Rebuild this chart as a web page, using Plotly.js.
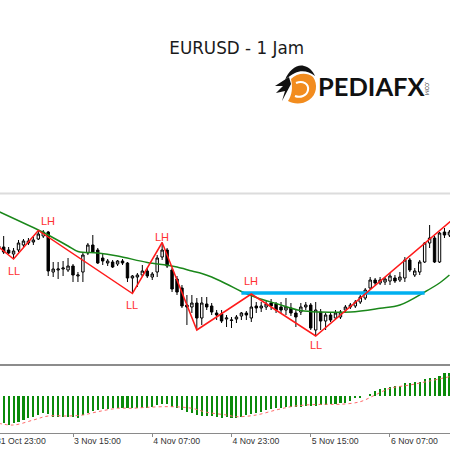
<!DOCTYPE html>
<html><head><meta charset="utf-8">
<script src="https://cdn.plot.ly/plotly-3.0.1.min.js"></script>
<style>html,body{margin:0;padding:0;background:#fff;}#chart{width:450px;height:450px;}</style>
</head><body><div id="chart"></div>
<script>
// ---- data (hourly bars, bar index) ----
const tickBars = [0,16,32,48,64,80];
const tickLabels = ['31 Oct 23:00','3 Nov 15:00','4 Nov 07:00','4 Nov 23:00','5 Nov 15:00','6 Nov 07:00'];
const barIndex = [1,2,3,4,5,6,7,8,9,10,11,12,13,14,15,16,17,18,19,20,21,22,23,24,25,26,27,28,29,30,
31,32,33,34,35,36,37,38,39,40,41,42,43,44,45,46,47,48,49,50,51,52,53,54,55,56,57,58,59,60,
61,62,63,64,65,66,67,68,69,70,71,72,73,74,75,76,77,78,79,80,81,82,83,84,85,86,87,88,89,90,91,92];
const open = [1.1566,1.1565,1.1562,1.1558,1.1562,1.1567,1.1569,1.1570,1.1573,1.1576,
1.1580,1.1540,1.1542,1.1543,1.1542,1.1546,1.1536,1.1540,1.1559,1.1567,
1.1562,1.1554,1.1549,1.1550,1.1548,1.1551,1.1549,1.1534,1.1535,1.1537,
1.1541,1.1535,1.1540,1.1555,1.1562,1.1542,1.1533,1.1524,1.1507,1.1505,
1.1509,1.1494,1.1508,1.1506,1.1499,1.1498,1.1493,1.14915,1.1493,1.1496,
1.1499,1.1494,1.1506,1.1504,1.1505,1.1509,1.1508,1.1505,1.1502,1.1504,
1.1499,1.1500,1.1505,1.1507,1.1482,1.1500,1.1491,1.1497,1.1494,1.1495,
1.1502,1.1505,1.1506,1.1510,1.1514,1.1524,1.1532,1.1529,1.1530,1.1531,
1.1534,1.1532,1.1534,1.1552,1.1537,1.1540,1.1550,1.1569,1.1574,1.1550,
1.1580,1.1577];
const high = [1.1572,1.1576,1.1565,1.1564,1.1572,1.1573,1.1574,1.1575,1.15815,1.1582,
1.1581,1.1550,1.1550,1.1551,1.1554,1.1548,1.1540,1.1559,1.1569,1.1577,
1.1564,1.1559,1.1553,1.1552,1.1552,1.1553,1.1550,1.1537,1.1539,1.1547,
1.1544,1.1540,1.1557,1.15695,1.1564,1.1544,1.1536,1.1527,1.1517,1.1517,
1.1514,1.1515,1.1515,1.1509,1.1502,1.1502,1.1497,1.1495,1.1497,1.1500,
1.1501,1.1518,1.1510,1.1510,1.1512,1.1513,1.1510,1.1510,1.1514,1.1509,
1.1502,1.1509,1.1510,1.1509,1.1510,1.1503,1.1499,1.1499,1.1502,1.1502,
1.1507,1.1509,1.1512,1.1517,1.1524,1.1535,1.1534,1.1535,1.1535,1.1539,
1.1537,1.1540,1.1555,1.1554,1.1544,1.1552,1.1570,1.1587,1.1576,1.1580,
1.1584,1.1582];
const low = [1.1562,1.1558,1.1558,1.1553,1.1560,1.1565,1.1567,1.1567,1.1572,1.1574,
1.1536,1.1535,1.1533,1.1536,1.1540,1.1530,1.1530,1.1530,1.1557,1.1559,
1.1548,1.1547,1.1546,1.1544,1.1546,1.1547,1.1530,1.15185,1.1525,1.1535,
1.1534,1.1532,1.1535,1.1552,1.1544,1.1520,1.1517,1.1504,1.1487,1.1499,
1.1482,1.1487,1.1502,1.1497,1.1492,1.1489,1.1485,1.1484,1.1489,1.1492,
1.1492,1.1490,1.1499,1.1500,1.1502,1.1502,1.1499,1.1499,1.1497,1.1496,
1.1485,1.1497,1.1502,1.1482,1.1476,1.1482,1.1482,1.1490,1.1492,1.1493,
1.1500,1.1503,1.1504,1.1508,1.1512,1.1522,1.1527,1.1527,1.1527,1.1527,
1.1529,1.1530,1.1530,1.1540,1.1535,1.1537,1.1549,1.1564,1.1549,1.1549,
1.1574,1.1575];
const close = [1.1564,1.1560,1.1559,1.1561,1.1569,1.1571,1.1571,1.1572,1.1578,1.1580,
1.1541,1.1543,1.1543,1.1544,1.1546,1.1537,1.1537,1.1557,1.1567,1.1560,
1.1549,1.1551,1.1551,1.1545,1.1551,1.1549,1.1534,1.1536,1.1537,1.1541,
1.1536,1.1538,1.1554,1.1562,1.1546,1.1523,1.1520,1.1506,1.1505,1.1509,
1.1494,1.1509,1.1505,1.1500,1.1497,1.1491,1.1494,1.1492,1.1495,1.1499,
1.1497,1.1505,1.1504,1.1506,1.1508,1.1506,1.1502,1.1502,1.1505,1.1499,
1.1495,1.1505,1.1507,1.1484,1.1502,1.1491,1.1497,1.1492,1.1499,1.1500,
1.1505,1.1507,1.1510,1.1515,1.1522,1.1532,1.1529,1.1532,1.1533,1.1536,
1.1531,1.1535,1.1552,1.1542,1.1541,1.1550,1.1569,1.1574,1.1550,1.1579,
1.1577,1.1580];
// moving average (green)
const maBar = [1,9,11,15,17,21,25,31,35,37,40,42,44,47,50,53,57,62,66,72,78,82,87,90,92];
const maValue = [1.16005,1.1582,1.1577,1.1566,1.15605,1.1559,1.1556,1.15495,1.15468,1.1545,1.1541,1.15385,1.1535,1.1528,1.15205,1.15145,1.15085,1.15015,1.1500,1.1500,1.15037,1.1507,1.1520,1.1529,1.1537];
// zigzag swings (red)
const zzBar = [0,4,9,28,34,41,52,65,93];
const zzValue = [1.1569,1.1553,1.15815,1.15185,1.15695,1.1482,1.1518,1.1476,1.1594];
const zzTag = ['','LL','LH','LL','LH','','LH','LL',''];
// horizontal level (cyan)
const levelBars = [50,87];
const levelValue = [1.1519,1.1519];
// lower panel: histogram and dotted signal
const histValue = [-27,-27.3,-29,-27.3,-25.7,-24,-22.3,-20.7,-19,-17.3,
-18.3,-20.7,-20.7,-20.7,-21.3,-21.3,-21.7,-19,-17.3,-15,
-14,-13.3,-13,-12.3,-12.3,-11.7,-11.7,-12.3,-12.3,-12.3,
-11.7,-10.7,-9,-8,-8.3,-10.7,-12.3,-14,-15.7,-17.3,
-19,-20,-20,-20,-20.7,-21.7,-20.7,-21.7,-21.7,-20.7,
-19,-18.3,-17.3,-15.7,-14,-13.3,-12.3,-11.7,-10.7,-10.7,
-10.7,-10.7,-9.7,-9.7,-9.7,-9,-9,-8.3,-8.3,-7.3,
-6.7,-5,-2.3,-1.7,0.3,1.7,5,7,8.3,9.3,
10.3,10.3,12.7,12.7,13.7,14.3,17,18.3,18.3,20.3,
22.7,23.5];
const sigBar = [1,4,8,11,15,18,21,25,28,31,36,40,43,47,49,53,57,60,63,67,70,74,77,80,84,88,92];
const sigValue = [-27.3,-29,-24,-20,-20,-19,-15.7,-12.3,-12.3,-11.3,-10.7,-12.3,-16.3,-19,-20.7,-19,-14,-10.7,-9,-8.3,-8.3,-5.7,1,7.7,11,15,19.3];

// ---- helpers (pixel -> paper for decorations) ----
const W = 450, H = 450;
function toPaper(d){
  return d.replace(/(-?\d+\.?\d*),(-?\d+\.?\d*)/g,(m,x,y)=>(x/W).toFixed(5)+','+(1-y/H).toFixed(5));
}

const traces = [
  {type:'candlestick', x:barIndex, open:open, high:high, low:low, close:close,
   xaxis:'x', yaxis:'y', whiskerwidth:0, hoverinfo:'skip',
   increasing:{line:{color:'#000',width:1}, fillcolor:'#ffffff'},
   decreasing:{line:{color:'#000',width:1}, fillcolor:'#000000'}},
  {type:'scatter', mode:'lines', x:maBar, y:maValue, xaxis:'x', yaxis:'y',
   line:{color:'#1a871a', width:1.5, shape:'spline'}, hoverinfo:'skip'},
  {type:'scatter', mode:'lines', x:levelBars, y:levelValue, xaxis:'x', yaxis:'y',
   line:{color:'#00b0f0', width:3.5}, hoverinfo:'skip'},
  {type:'scatter', mode:'lines', x:zzBar, y:zzValue, xaxis:'x', yaxis:'y',
   line:{color:'#ff1a1a', width:1.5}, hoverinfo:'skip'},
  {type:'bar', x:barIndex, y:histValue, xaxis:'x', yaxis:'y2', width:0.42,
   marker:{color:'#0a8a0a', line:{width:0}}, hoverinfo:'skip'},
  {type:'scatter', mode:'lines', x:sigBar, y:sigValue, xaxis:'x', yaxis:'y2',
   line:{color:'#ff6a6a', width:1, dash:'dot', shape:'spline'}, hoverinfo:'skip'}
];

const labelShift = {1:[0,-12], 2:[9.5,9.5], 3:[0,-11], 4:[0,6], 6:[0,13], 7:[0,-9.3]};
const annotations = [];
zzTag.forEach((t,i)=>{
  if(!t) return;
  const s = labelShift[i];
  annotations.push({x:zzBar[i], y:zzValue[i], xref:'x', yref:'y', text:t, showarrow:false,
    xshift:s[0], yshift:s[1], font:{family:'Liberation Sans', size:11, color:'#ff3030'}});
});
// first (partially cut) tick label, as in the reference
annotations.push({x:-6.25/W, y:1-441/H, xref:'paper', yref:'paper', xanchor:'left', yanchor:'middle',
  text:tickLabels[0], showarrow:false, font:{family:'Liberation Sans', size:8.7, color:'#333'}});
// logo text
annotations.push({x:371.7/W, y:1-86.5/H, xref:'paper', yref:'paper', xanchor:'center', yanchor:'middle',
  text:'PEDIAFX', showarrow:false, font:{family:'Lato', size:25.5, color:'#111', weight:700}});
annotations.push({x:427/W, y:1-88/H, xref:'paper', yref:'paper', xanchor:'center', yanchor:'middle',
  text:'.COM', textangle:90, showarrow:false, font:{family:'Lato', size:5, color:'#333'}});

const shapes = [
  {type:'line', xref:'paper', yref:'paper', x0:0, x1:1, y0:1-193.5/H, y1:1-193.5/H, line:{color:'#dcdcdc', width:2}},
  {type:'line', xref:'paper', yref:'paper', x0:0, x1:1, y0:1-365/H, y1:1-365/H, line:{color:'#8c8c8c', width:2}},
  // logo icon
  {type:'path', xref:'paper', yref:'paper', layer:'above', line:{width:0}, fillcolor:'#f28c1e',
   path:toPaper('M 291,79 C 297,73 307,72 313,77 C 318,84 317,95 309,100 C 302,105 293,104 288,101 C 292,95 293,88 291,79 Z')},
  {type:'path', xref:'paper', yref:'paper', layer:'above', line:{color:'#ffffff', width:2}, fillcolor:'rgba(0,0,0,0)',
   path:toPaper('M 296,83 C 303,80 309,84 308,90 C 307,96 300,98 295,96')},
  {type:'path', xref:'paper', yref:'paper', layer:'above', line:{width:0}, fillcolor:'#111111',
   path:toPaper('M 285,80 C 289,70 297,64 304,66 C 309,67 313,71 315,76 C 309,71 301,70 295,73 C 291,75 288,77 285,80 Z')},
  {type:'path', xref:'paper', yref:'paper', layer:'above', line:{width:0}, fillcolor:'#111111',
   path:toPaper('M 289,77 L 275,86 L 283,86 L 276,93 L 285,91 L 282,101 L 291,84 Z')}
];

const layout = {
  width:W, height:H, margin:{l:0,r:0,t:0,b:0},
  paper_bgcolor:'#ffffff', plot_bgcolor:'rgba(0,0,0,0)', showlegend:false,
  title:{text:'EURUSD - 1 Jam', x:236.7/W, y:1-48/H, xref:'paper', yref:'paper',
    xanchor:'center', yanchor:'middle', font:{family:'DejaVu Sans', size:16.8, color:'#1a1a1a'}},
  xaxis:{domain:[0,1], range:[1.262,92.116], anchor:'y2', showgrid:false, zeroline:false,
    showline:true, linecolor:'#8a8a8a', linewidth:1, ticks:'outside', ticklen:3, tickcolor:'#8a8a8a',
    tickmode:'array', tickvals:tickBars, ticktext:tickLabels, ticklabelposition:'outside right',
    tickfont:{family:'Liberation Sans', size:8.7, color:'#333'}, rangeslider:{visible:false}, fixedrange:true},
  yaxis:{domain:[88/H, 257/H], range:[1.1450,1.1619], visible:false, fixedrange:true},
  yaxis2:{domain:[17.3/H, 84/H], range:[-36.7,30], visible:false, fixedrange:true},
  annotations:annotations, shapes:shapes, bargap:0
};
Plotly.newPlot('chart', traces, layout, {staticPlot:true, displayModeBar:false});
</script>
</body></html>
